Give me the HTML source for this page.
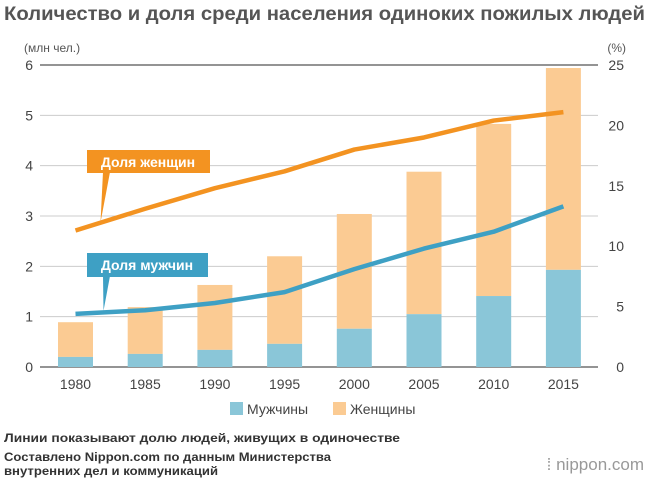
<!DOCTYPE html>
<html><head><meta charset="utf-8"><style>
body{margin:0;background:#fff;font-family:"Liberation Sans","Noto Sans CJK JP",sans-serif;}
svg text{font-family:"Liberation Sans","Noto Sans CJK JP",sans-serif;}
</style></head><body>
<svg id="c" width="650" height="478" viewBox="0 0 650 478">
<text x="4" y="20" font-size="19" font-weight="bold" fill="#555" textLength="641" lengthAdjust="spacingAndGlyphs">Количество и доля среди населения одиноких пожилых людей</text>
<text x="24" y="52" font-size="12" fill="#555">(млн чел.)</text>
<text x="626" y="52" font-size="12" fill="#555" text-anchor="end">(%)</text>
<g id="grid"></g><g id="bars"></g><g id="lines"></g><g id="axes"></g>
<g>
<rect x="230" y="402" width="13" height="13" fill="#8ac6d8"/>
<text x="247" y="414" font-size="14" fill="#444">Мужчины</text>
<rect x="333" y="402" width="13" height="13" fill="#fbcb93"/>
<text x="350" y="414" font-size="14" fill="#444">Женщины</text>
</g>
<text x="4" y="442" font-size="12" font-weight="bold" fill="#333" textLength="396" lengthAdjust="spacingAndGlyphs">Линии показывают долю людей, живущих в одиночестве</text>
<text x="4" y="461" font-size="12" font-weight="bold" fill="#333" textLength="327" lengthAdjust="spacingAndGlyphs">Составлено Nippon.com по данным Министерства</text>
<text x="4" y="475" font-size="12" font-weight="bold" fill="#333" textLength="214" lengthAdjust="spacingAndGlyphs">внутренних дел и коммуникаций</text>
<text x="644" y="470" font-size="17" fill="#999" text-anchor="end">⁞ nippon.com</text>
</svg>
<script>
const years=["1980","1985","1990","1995","2000","2005","2010","2015"];
const men=[0.2,0.26,0.34,0.46,0.76,1.05,1.41,1.93];
const totals=[0.89,1.19,1.63,2.2,3.04,3.88,4.83,5.94];
const femaleShare=[11.3,13.1,14.8,16.2,18.0,19.0,20.4,21.1];
const maleShare=[4.4,4.7,5.3,6.2,8.1,9.8,11.2,13.3];
const leftTicks=[0,1,2,3,4,5,6];
const rightTicks=[0,5,10,15,20,25];
const NS="http://www.w3.org/2000/svg";
const x0=40,x1=598,yb=367,yt=65;
const xs=i=>75.5+i*69.7;
const yl=v=>yb-(v/6)*(yb-yt);
const yr=v=>yb-(v/25)*(yb-yt);
function mk(t,a,p){const e=document.createElementNS(NS,t);for(const k in a)e.setAttribute(k,a[k]);document.getElementById(p).appendChild(e);return e;}
leftTicks.forEach(v=>{
 const l=mk('line',{x1:x0,x2:x1,y1:yl(v),y2:yl(v),stroke:(v==0||v==6)?'#555':'#ccc','stroke-width':(v==0||v==6)?1.3:1},'grid');
 
 
 const t=mk('text',{x:33,y:yl(v)+5,'font-size':14,fill:'#444','text-anchor':'end'},'axes');t.textContent=v;
 
 
});
rightTicks.forEach(v=>{
 const t=mk('text',{x:624,y:yr(v)+5,'font-size':14,fill:'#444','text-anchor':'end'},'axes');t.textContent=v;
 
 
});
years.forEach((y,i)=>{
 const w=35,x=xs(i)-w/2;
 const f=mk('rect',{x:x,width:w,y:yl(totals[i]),height:yl(men[i])-yl(totals[i]),fill:'#fbcb93'},'bars');
 
 
 const m=mk('rect',{x:x,width:w,y:yl(men[i]),height:yb-yl(men[i]),fill:'#8ac6d8'},'bars');
 
 
 const t=mk('text',{x:xs(i),y:389,'font-size':14,fill:'#444','text-anchor':'middle'},'axes');t.textContent=y;
 
 
});
const fl=mk('polyline',{points:femaleShare.map((v,i)=>xs(i)+','+yr(v)).join(' '),fill:'none',stroke:'#f39321','stroke-width':4.5,'stroke-linejoin':'round'},'lines');


const ml=mk('polyline',{points:maleShare.map((v,i)=>xs(i)+','+yr(v)).join(' '),fill:'none',stroke:'#3ea0c4','stroke-width':4.5,'stroke-linejoin':'round'},'lines');


const fy=yr(femaleShare[0]), my=yr(maleShare[0]);
const fc=mk('polygon',{points:`103,172 110,172 ${xs(0)+25},${fy-8}`,fill:'#f39321'},'lines');


const fb=mk('rect',{x:87,y:150,width:123,height:23,fill:'#f39321'},'lines');


const ft=mk('text',{x:148,y:167,'font-size':14,'font-weight':'bold',fill:'#fff','text-anchor':'middle'},'lines');ft.textContent='Доля женщин';


const mc=mk('polygon',{points:`103,276 110,276 ${xs(0)+28},${my-3}`,fill:'#3ea0c4'},'lines');


const mb=mk('rect',{x:87,y:253,width:121,height:24,fill:'#3ea0c4'},'lines');


const mt=mk('text',{x:147,y:270,'font-size':14,'font-weight':'bold',fill:'#fff','text-anchor':'middle'},'lines');mt.textContent='Доля мужчин';


</script>
</body></html>
